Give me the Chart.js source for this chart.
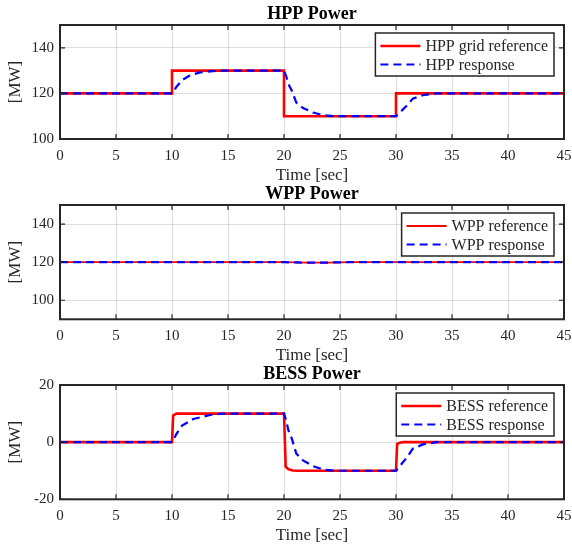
<!DOCTYPE html>
<html>
<head>
<meta charset="utf-8">
<script src="https://cdn.jsdelivr.net/npm/chart.js@4.4.1/dist/chart.umd.min.js"></script>
<style>
  body { margin: 0; background: #fff; }
  canvas { display: block; }
</style>
</head>
<body>
<canvas id="hpp" width="572" height="184"></canvas>
<canvas id="wpp" width="572" height="180"></canvas>
<canvas id="bess" width="572" height="183"></canvas>
<script>
// time axis ticks (sec)
const timeTicks = [0, 5, 10, 15, 20, 25, 30, 35, 40, 45];

// HPP power [MW]
const hppRefTime = [0, 10, 10, 20, 20, 30, 30, 45];
const hppRefVal = [120, 120, 130, 130, 110, 110, 120, 120];
const hppRespTime = [0, 10, 10.4, 10.9, 11.5, 12, 12.5, 13.4, 14.2, 20, 20.2, 20.4, 20.7, 21.1, 21.7, 22.6, 23.5, 24.5, 30, 30.4, 31, 31.5, 32.4, 33.6, 45];
const hppRespVal = [120, 120, 122.9, 125.8, 127.6, 128.5, 129.2, 129.7, 130, 130, 127.5, 124, 121.2, 116, 113.6, 111.6, 110.4, 110, 110, 111.9, 114.8, 117.7, 119.2, 120, 120];
const hppTicks = [100, 120, 140];

// WPP power [MW]
const wppTime = [0, 20, 21, 22, 23, 24, 25, 26, 45];
const wppRefVal = [120, 120, 119.85, 119.75, 119.75, 119.8, 119.9, 120, 120];
const wppRespVal = [120, 120, 119.85, 119.75, 119.75, 119.8, 119.9, 120, 120];
const wppTicks = [100, 120, 140];

// BESS power [MW]
const bessRefTime = [0, 10, 10.1, 10.4, 20, 20.15, 20.4, 20.8, 21.2, 30, 30.1, 30.4, 30.7, 45];
const bessRefVal = [0, 0, 9.3, 10, 10, -8.6, -9.5, -9.9, -10, -10, -0.6, -0.1, 0, 0];
const bessRespTime = [0, 10, 10.4, 10.9, 11.9, 13.4, 14.5, 20, 20.2, 20.4, 20.7, 21.1, 21.7, 22.6, 23.5, 24.5, 30, 30.4, 31, 31.5, 32.4, 33.6, 45];
const bessRespVal = [0, 0, 2.9, 5.8, 8.1, 9.5, 10, 10, 7.5, 4, 1.2, -4, -6.4, -8.4, -9.6, -10, -10, -8.1, -5.2, -2.3, -0.8, 0, 0];
const bessTicks = [-20, 0, 20];

const FONT = '"Liberation Serif", "Times New Roman", serif';
const INK = '#262626';

function pts(t, v) {
  return t.map((x, i) => ({ x, y: v[i] }));
}

const panelPlugin = {
  id: 'panel',
  afterDraw(chart, args, opts) {
    const { ctx, chartArea: a, scales } = chart;
    const x = scales.x, y = scales.y;
    ctx.save();
    ctx.strokeStyle = INK;
    ctx.lineWidth = 1.2;
    ctx.beginPath();
    x.ticks.forEach(t => {
      const p = x.getPixelForValue(t.value);
      ctx.moveTo(p, a.bottom); ctx.lineTo(p, a.bottom - 5);
      ctx.moveTo(p, a.top); ctx.lineTo(p, a.top + 5);
    });
    y.ticks.forEach(t => {
      const p = y.getPixelForValue(t.value);
      ctx.moveTo(a.left, p); ctx.lineTo(a.left + 5, p);
      ctx.moveTo(a.right, p); ctx.lineTo(a.right - 5, p);
    });
    ctx.stroke();
    ctx.lineWidth = 2;
    ctx.strokeRect(a.left, a.top, a.right - a.left, a.bottom - a.top);

    // title
    ctx.fillStyle = '#000';
    ctx.font = 'bold 18px ' + FONT;
    ctx.textAlign = 'center';
    ctx.textBaseline = 'bottom';
    ctx.fillText(opts.title, (a.left + a.right) / 2, a.top - 2);

    // legend in the upper right corner
    const ds = chart.data.datasets;
    ctx.font = '16px ' + FONT;
    const tw = Math.max(...ds.map(d => ctx.measureText(d.label).width));
    const bw = 5 + 40 + 5 + tw + 6;
    const bh = 43;
    const x0 = a.right - 10 - bw;
    const y0 = a.top + 8;
    ctx.fillStyle = '#fff';
    ctx.fillRect(x0, y0, bw, bh);
    ctx.lineWidth = 1.5;
    ctx.strokeStyle = INK;
    ctx.strokeRect(x0, y0, bw, bh);
    ds.forEach((d, i) => {
      const yy = y0 + 13 + i * 18.5;
      ctx.save();
      ctx.strokeStyle = d.borderColor;
      ctx.lineWidth = d.borderWidth;
      ctx.setLineDash(d.borderDash || []);
      ctx.beginPath();
      ctx.moveTo(x0 + 5, yy);
      ctx.lineTo(x0 + 45, yy);
      ctx.stroke();
      ctx.restore();
      ctx.fillStyle = INK;
      ctx.textAlign = 'left';
      ctx.textBaseline = 'middle';
      ctx.fillText(d.label, x0 + 50, yy + 1);
    });
    ctx.restore();
  }
};

function makePanel(id, title, datasets, yMin, yMax, yTicks, top, axisH, titleShift) {
  return new Chart(document.getElementById(id), {
    type: 'line',
    data: { datasets },
    plugins: [panelPlugin],
    options: {
      responsive: false,
      animation: false,
      layout: { padding: { top, right: 8, left: 0, bottom: 0 } },
      plugins: {
        legend: { display: false },
        tooltip: { enabled: false },
        panel: { title }
      },
      elements: { point: { radius: 0 }, line: { tension: 0 } },
      scales: {
        x: {
          type: 'linear',
          min: 0, max: 45,
          afterBuildTicks: s => { s.ticks = timeTicks.map(v => ({ value: v })); },
          afterFit: s => { s.height = axisH; s.paddingLeft = 0; s.paddingRight = 0; },
          grid: { color: 'rgba(0,0,0,0.13)', drawTicks: false },
          border: { display: false },
          ticks: { color: INK, font: { family: FONT, size: 15 }, padding: 8, maxRotation: 0 },
          title: { display: true, text: 'Time [sec]', color: INK, font: { family: FONT, size: 17 }, padding: { top: 0, bottom: titleShift } }
        },
        y: {
          min: yMin, max: yMax,
          afterBuildTicks: s => { s.ticks = yTicks.map(v => ({ value: v })); },
          afterFit: s => { s.width = 60; },
          grid: { color: 'rgba(0,0,0,0.13)', drawTicks: false },
          border: { display: false },
          ticks: { color: INK, font: { family: FONT, size: 15 }, padding: 6 },
          title: { display: true, text: '[MW]', color: INK, font: { family: FONT, size: 17 }, padding: { top: 5, bottom: 0 } }
        }
      }
    }
  });
}

function refSet(label, t, v) {
  return { label, data: pts(t, v), borderColor: '#ff0000', borderWidth: 2.6, order: 2, fill: false };
}
function respSet(label, t, v) {
  return { label, data: pts(t, v), borderColor: '#0000ff', borderWidth: 2.2, borderDash: [8, 5], order: 1, fill: false };
}

makePanel('hpp', 'HPP Power', [
  refSet('HPP grid reference', hppRefTime, hppRefVal),
  respSet('HPP response', hppRespTime, hppRespVal)
], 100, 150, hppTicks, 25, 45, -2);

makePanel('wpp', 'WPP Power', [
  { ...refSet('WPP reference', wppTime, wppRefVal), borderWidth: 1.8 },
  respSet('WPP response', wppTime, wppRespVal)
], 90, 150, wppTicks, 21, 44.7, -2);

makePanel('bess', 'BESS Power', [
  refSet('BESS reference', bessRefTime, bessRefVal),
  respSet('BESS response', bessRespTime, bessRespVal)
], -20, 20, bessTicks, 21, 47.7, 1);
</script>
</body>
</html>
